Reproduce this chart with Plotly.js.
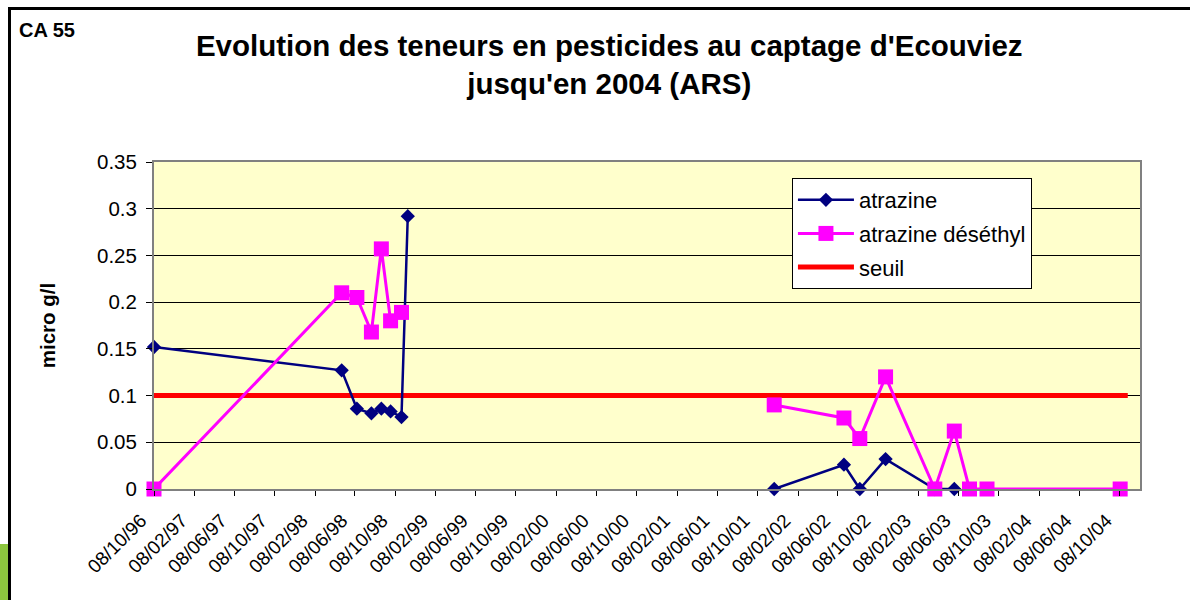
<!DOCTYPE html>
<html><head><meta charset="utf-8">
<script src="https://cdn.plot.ly/plotly-3.0.1.min.js"></script>
<style>
body{margin:0;background:#fff;}
#wrap{position:relative;width:1190px;height:600px;overflow:hidden;}
#chart{position:absolute;left:0;top:0;width:1190px;height:600px;}
#frame{position:absolute;left:8px;top:7px;width:1300px;height:800px;border:3px solid #000;pointer-events:none;}
#tab{position:absolute;left:0;top:544px;width:8px;height:56px;background:#8DC63F;}
</style></head><body>
<div id="wrap"><div id="chart"></div><div id="frame"></div><div id="tab"></div></div>
<script>
// Sample dates (dd/mm/yy on the axis); null rows break the lines
const sampleDates = ['1996-10-08','1998-04-29','1998-06-14','1998-07-28','1998-08-27','1998-09-24','1998-10-27','1998-11-15',
  '2000-06-01',
  '2001-11-28','2002-06-27','2002-08-14','2002-10-31','2003-03-29','2003-05-27','2003-07-12','2003-09-03','2004-10-10'];
const atrazine = [0.152,0.127,0.086,0.081,0.086,0.083,0.077,0.292,
  null,
  0,0.026,0,0.032,0,0,null,null,null];
const atrazineDesethyl = [0,0.210,0.205,0.168,0.257,0.180,0.189,null,
  null,
  0.090,0.076,0.054,0.120,0,0.062,0,0,0];
const seuilDates = ['1996-10-08','2004-11-02'];
const seuilValues = [0.1,0.1];

const tickDates = ['1996-10-08','1997-02-08','1997-06-08','1997-10-08','1998-02-08','1998-06-08','1998-10-08',
  '1999-02-08','1999-06-08','1999-10-08','2000-02-08','2000-06-08','2000-10-08','2001-02-08','2001-06-08','2001-10-08',
  '2002-02-08','2002-06-08','2002-10-08','2003-02-08','2003-06-08','2003-10-08','2004-02-08','2004-06-08','2004-10-08'];
const tickLabels = ['08/10/96','08/02/97','08/06/97','08/10/97','08/02/98','08/06/98','08/10/98',
  '08/02/99','08/06/99','08/10/99','08/02/00','08/06/00','08/10/00','08/02/01','08/06/01','08/10/01',
  '08/02/02','08/06/02','08/10/02','08/02/03','08/06/03','08/10/03','08/02/04','08/06/04','08/10/04'];

const FONT = 'Liberation Sans, Arial, sans-serif';

const traces = [
  {x: seuilDates, y: seuilValues, name: 'seuil', type: 'scatter', mode: 'lines',
   line: {color: '#FF0000', width: 5}, legendgroup: 'c', legendrank: 3, cliponaxis: false},
  {x: sampleDates, y: atrazine, name: 'atrazine', type: 'scatter', mode: 'lines+markers',
   line: {color: '#000080', width: 2.5}, marker: {symbol: 'diamond', size: 11, color: '#000080'},
   connectgaps: false, legendgroup: 'a', legendrank: 1, cliponaxis: false},
  {x: sampleDates, y: atrazineDesethyl, name: 'atrazine déséthyl', type: 'scatter', mode: 'lines+markers',
   line: {color: '#FF00FF', width: 3}, marker: {symbol: 'square', size: 15, color: '#FF00FF'},
   connectgaps: false, legendgroup: 'b', legendrank: 2, cliponaxis: false}
];

const layout = {
  width: 1190, height: 600,
  margin: {l: 154, r: 50, t: 162, b: 111},
  paper_bgcolor: '#FFFFFF', plot_bgcolor: '#FFFFCC',
  font: {family: FONT, size: 20, color: '#000'},
  title: {text: "Evolution des teneurs en pesticides au captage d'Ecouviez<br>jusqu'en 2004 (ARS)",
    font: {family: FONT, size: 29.5, weight: 'bold', color: '#000'},
    xref: 'container', x: 0.512, xanchor: 'center', yref: 'container', y: 0.907, yanchor: 'top'},
  xaxis: {type: 'date', range: ['1996-10-08', '2004-12-09'],
    tickmode: 'array', tickvals: tickDates, ticktext: tickLabels, tickangle: -45,
    tickfont: {family: FONT, size: 19, color: '#000'},
    ticks: 'outside', ticklen: 5, tickcolor: '#000', tickwidth: 1,
    ticklabelstandoff: 6, ticklabelshift: -13,
    showgrid: false, zeroline: false,
    showline: true, linecolor: '#808080', linewidth: 2, mirror: true},
  yaxis: {range: [0, 0.35], dtick: 0.05, tick0: 0,
    tickfont: {family: FONT, size: 20.5, color: '#000'},
    ticks: 'outside', ticklen: 6, tickcolor: '#000', tickwidth: 1, ticklabelstandoff: 5,
    showgrid: true, gridcolor: '#000', gridwidth: 1, zeroline: false,
    showline: true, linecolor: '#808080', linewidth: 2, mirror: true,
    title: {text: 'micro g/l', font: {family: FONT, size: 20.5, weight: 'bold', color: '#000'}, standoff: 36}},
  legend: {x: 0.647, y: 0.951, xanchor: 'left', yanchor: 'top',
    bgcolor: '#FFFFFF', bordercolor: '#000', borderwidth: 1,
    font: {family: FONT, size: 22, color: '#000'},
    traceorder: 'grouped', tracegroupgap: 2, itemwidth: 56},
  annotations: [
    {text: 'CA 55', xref: 'paper', yref: 'paper', x: -0.139, y: 1.404, xanchor: 'left', yanchor: 'middle',
     showarrow: false, font: {family: FONT, size: 20, weight: 'bold', color: '#000'}}
  ],
  showlegend: true
};

Plotly.newPlot('chart', traces, layout, {staticPlot: true, displayModeBar: false});
</script>
</body></html>
